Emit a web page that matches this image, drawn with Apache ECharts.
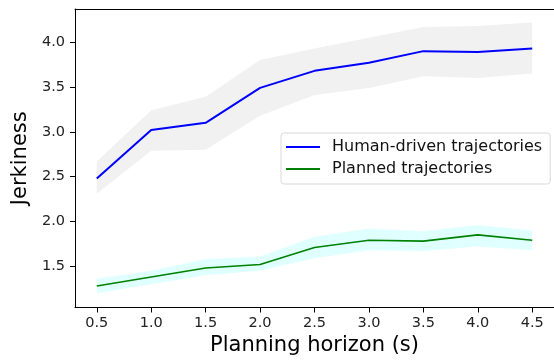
<!DOCTYPE html>
<html>
<head>
<meta charset="utf-8">
<script src="https://cdn.jsdelivr.net/npm/echarts@6/dist/echarts.min.js"></script>
<style>
  html, body { margin: 0; padding: 0; background: #fff; }
  #chart { width: 554px; height: 363px; }
</style>
</head>
<body>
<div id="chart"></div>
<script>
// Planning horizons (s)
const horizons = [0.5, 1.0, 1.5, 2.0, 2.5, 3.0, 3.5, 4.0, 4.5];

// Human-driven trajectories: mean jerkiness and spread band
const humanMean  = [2.48, 3.02, 3.10, 3.49, 3.68, 3.77, 3.90, 3.89, 3.93];
const humanUpper = [2.67, 3.24, 3.39, 3.80, 3.93, 4.05, 4.17, 4.18, 4.22];
const humanLower = [2.31, 2.79, 2.80, 3.18, 3.41, 3.49, 3.62, 3.60, 3.65];

// Planned trajectories: mean jerkiness and spread band
const plannedMean  = [1.28, 1.38, 1.48, 1.52, 1.71, 1.79, 1.78, 1.85, 1.79];
const plannedUpper = [1.36, 1.45, 1.58, 1.61, 1.83, 1.92, 1.89, 1.96, 1.90];
const plannedLower = [1.20, 1.30, 1.40, 1.45, 1.59, 1.68, 1.67, 1.72, 1.68];

const yTicks = [1.5, 2.0, 2.5, 3.0, 3.5, 4.0];

const FONT = 'DejaVu Sans';

function pairs(xs, ys) { return xs.map((x, i) => [x, ys[i]]); }

// Filled region between a lower and an upper curve, projected through the axes
function band(name, lower, upper, color) {
  return {
    name: name, type: 'custom', silent: true, z: 1,
    data: pairs(horizons, lower),
    renderItem: function (params, api) {
      if (params.dataIndex !== 0) return null;
      const top = horizons.map((x, i) => api.coord([x, upper[i]]));
      const bot = horizons.map((x, i) => api.coord([x, lower[i]])).reverse();
      return {
        type: 'polygon',
        shape: { points: top.concat(bot) },
        style: { fill: color, stroke: null }
      };
    }
  };
}

const chart = echarts.init(document.getElementById('chart'), null, { renderer: 'canvas' });

chart.setOption({
  animation: false,
  textStyle: { fontFamily: FONT },
  grid: { left: 75, width: 483, top: 9, bottom: 55.5 },
  xAxis: [
    {
      type: 'value', min: 0.3, max: 4.7,
      name: 'Planning horizon (s)', nameLocation: 'middle', nameGap: 27,
      nameTextStyle: { fontSize: 21, color: '#000', fontFamily: FONT },
      axisLine: { show: true, onZero: false, lineStyle: { color: '#000', width: 1 } },
      axisTick: { show: true, length: 5, lineStyle: { color: '#000' },
        customValues: horizons },
      axisLabel: { fontSize: 14.5, color: '#222', margin: 8, fontFamily: FONT,
        customValues: horizons, formatter: v => v.toFixed(1) },
      splitLine: { show: false }
    },
    {
      // top frame line
      type: 'value', position: 'top', min: 0.3, max: 4.7,
      axisLine: { show: true, onZero: false, lineStyle: { color: '#000', width: 1 } },
      axisTick: { show: false }, axisLabel: { show: false }, splitLine: { show: false }
    }
  ],
  yAxis: {
    type: 'value', min: 1.04, max: 4.37,
    name: 'Jerkiness', nameLocation: 'middle', nameGap: 43, nameRotate: 90,
    nameTextStyle: { fontSize: 21, color: '#000', fontFamily: FONT },
    axisLine: { show: true, onZero: false, lineStyle: { color: '#000', width: 1 } },
    axisTick: { show: true, length: 5, lineStyle: { color: '#000' }, customValues: yTicks },
    axisLabel: { fontSize: 14.5, color: '#222', margin: 10, fontFamily: FONT,
      customValues: yTicks, formatter: v => v.toFixed(1) },
    splitLine: { show: false }
  },
  legend: {
    data: [
      { name: 'Human-driven trajectories', icon: 'rect' },
      { name: 'Planned trajectories', icon: 'rect' }
    ],
    orient: 'vertical', left: 281, top: 133,
    itemWidth: 34, itemHeight: 2, itemGap: 6,
    padding: [6, 8, 7, 5],
    backgroundColor: '#fff', borderColor: '#d8d8d8', borderWidth: 1, borderRadius: 3,
    textStyle: { fontSize: 16, color: '#111', fontFamily: FONT, padding: [0, 0, 0, 7] }
  },
  series: [
    band('human-band', humanLower, humanUpper, '#f1f1f1'),
    band('planned-band', plannedLower, plannedUpper, '#e0ffff'),
    {
      name: 'Human-driven trajectories', type: 'line', data: pairs(horizons, humanMean),
      symbol: 'none', color: '#0000ff', lineStyle: { color: '#0000ff', width: 2 }, z: 3
    },
    {
      name: 'Planned trajectories', type: 'line', data: pairs(horizons, plannedMean),
      symbol: 'none', color: '#008000', lineStyle: { color: '#008000', width: 1.6 }, z: 3
    }
  ]
});
</script>
</body>
</html>
